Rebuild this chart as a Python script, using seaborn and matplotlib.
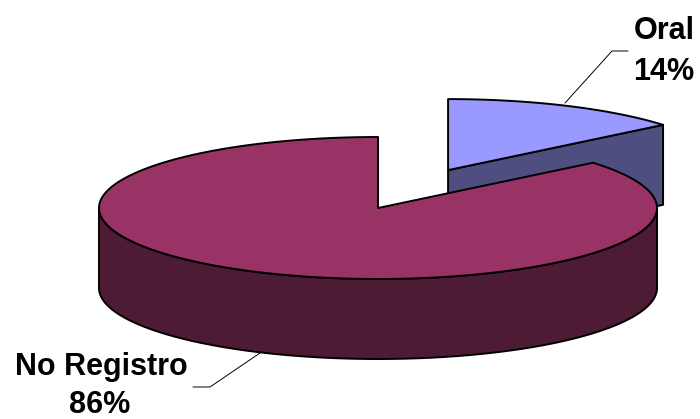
import numpy as np
import matplotlib
matplotlib.use("Agg")
import matplotlib.pyplot as plt
from matplotlib.patches import Polygon
import seaborn as sns

# ---- data ----
categories = ["Oral", "No Registro"]
values = [14, 86]
top_colors = ["#9999FF", "#993366"]
side_colors = ["#4E4E80", "#4E1B34"]
explode = [0.59, 0.0]

sns.set_theme(style="white")
plt.rcParams["font.family"] = ["Liberation Sans", "DejaVu Sans"]

W, H = 700, 419
fig = plt.figure(figsize=(W / 100, H / 100), dpi=100)
ax = fig.add_axes([0, 0, 1, 1])
ax.set_xlim(0, W)
ax.set_ylim(H, 0)
ax.axis("off")

# ---- 3D pie geometry (pixel space) ----
cx, cy = 378.0, 208.0
rx, ry = 279.0, 71.0
depth = 80.0
lw = 1.4


def pt(theta, ox, oy, z=0.0):
    return (ox + rx * np.sin(theta), oy - ry * np.cos(theta) + z)


def arc(t0, t1, ox, oy, z=0.0, n=200):
    ts = np.linspace(t0, t1, n)
    return [pt(t, ox, oy, z) for t in ts]


total = float(sum(values))
starts = np.cumsum([0] + values[:-1]) / total * 2 * np.pi
ends = np.cumsum(values) / total * 2 * np.pi

slices = []
for i, v in enumerate(values):
    a0, a1 = starts[i], ends[i]
    mid = (a0 + a1) / 2
    ox = cx + explode[i] * rx * np.sin(mid)
    oy = cy - explode[i] * ry * np.cos(mid)
    slices.append((i, a0, a1, ox, oy))

# draw back (exploded) slices first, then main
order = sorted(slices, key=lambda s: s[4])
for i, a0, a1, ox, oy in order:
    # radial face at end angle (visible if facing front)
    if 0 < a1 < np.pi:
        quad = [(ox, oy), pt(a1, ox, oy), pt(a1, ox, oy, depth), (ox, oy + depth)]
        ax.add_patch(Polygon(quad, closed=True, facecolor=side_colors[i],
                             edgecolor="black", lw=lw, joinstyle="round"))
    if np.pi < a0 < 2 * np.pi:
        quad = [(ox, oy), pt(a0, ox, oy), pt(a0, ox, oy, depth), (ox, oy + depth)]
        ax.add_patch(Polygon(quad, closed=True, facecolor=side_colors[i],
                             edgecolor="black", lw=lw, joinstyle="round"))
    # outer wall in front half
    s0, s1 = max(a0, np.pi / 2), min(a1, 3 * np.pi / 2)
    if s1 > s0:
        wall = arc(s0, s1, ox, oy) + arc(s1, s0, ox, oy, depth)
        ax.add_patch(Polygon(wall, closed=True, facecolor=side_colors[i],
                             edgecolor="black", lw=lw, joinstyle="round"))
    # top face
    top = [(ox, oy)] + arc(a0, a1, ox, oy)
    ax.add_patch(Polygon(top, closed=True, facecolor=top_colors[i],
                         edgecolor="black", lw=lw, joinstyle="round"))

# ---- labels ----
label_pos = {
    "Oral": ((664, 39), (664, 80)),
    "No Registro": ((101, 375), (100, 413)),
}
leaders = {
    "Oral": [(565, 103), (612, 51), (628, 51)],
    "No Registro": [(260, 353), (210, 387), (193, 387)],
}
for cat, val in zip(categories, values):
    (nx, ny), (px, py) = label_pos[cat]
    ax.text(nx, ny, cat, ha="center", va="baseline", fontsize=22,
            fontweight="bold", color="black")
    ax.text(px, py, f"{val}%", ha="center", va="baseline", fontsize=22,
            fontweight="bold", color="black")
    xs, ys = zip(*leaders[cat])
    ax.plot(xs, ys, color="black", lw=0.7)

fig.savefig("out.png", dpi=100)
